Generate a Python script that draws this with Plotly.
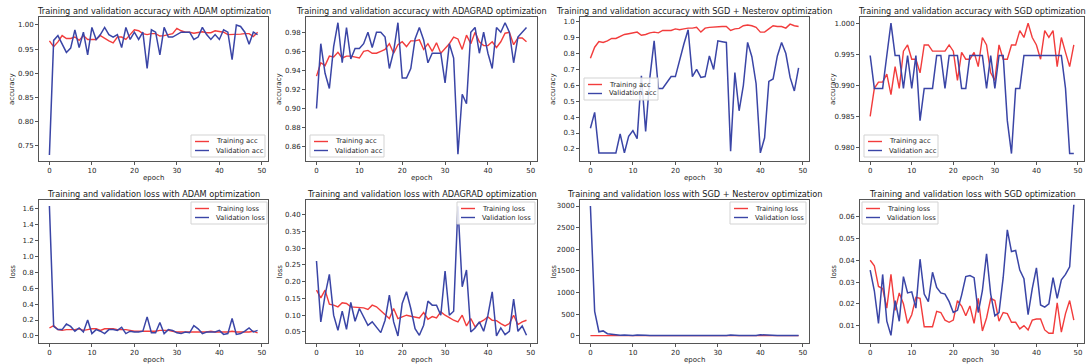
import plotly.graph_objects as go

W, H = 1086, 364
epochs = list(range(50))

# ---------------- data ----------------
adam_train_acc = [0.967, 0.955, 0.965, 0.978, 0.972, 0.972, 0.975, 0.968, 0.978, 0.970,
                  0.970, 0.970, 0.978, 0.972, 0.967, 0.963, 0.975, 0.975, 0.970, 0.980,
                  0.990, 0.988, 0.982, 0.980, 0.982, 0.982, 0.977, 0.978, 0.980, 0.982,
                  0.993, 0.988, 0.985, 0.985, 0.983, 0.985, 0.986, 0.984, 0.984, 0.988,
                  0.987, 0.985, 0.980, 0.980, 0.981, 0.981, 0.982, 0.982, 0.976, 0.985]
adam_val_acc = [0.730, 0.968, 0.978, 0.962, 0.943, 0.952, 0.990, 0.953, 0.985, 0.938,
                0.995, 0.970, 0.980, 0.995, 0.980, 0.975, 0.980, 0.953, 0.995, 0.970,
                0.985, 0.970, 0.985, 0.910, 0.990, 0.985, 0.938, 0.995, 0.975, 0.975,
                0.980, 0.985, 0.985, 0.985, 0.970, 0.975, 0.995, 0.980, 0.970, 0.980,
                0.970, 0.990, 0.985, 0.928, 1.000, 0.997, 0.985, 0.960, 0.985, 0.980]

adagrad_train_acc = [0.934, 0.948, 0.945, 0.955, 0.954, 0.959, 0.953, 0.955, 0.955, 0.954,
                     0.953, 0.960, 0.961, 0.958, 0.958, 0.960, 0.962, 0.968, 0.958, 0.967,
                     0.970, 0.965, 0.971, 0.971, 0.972, 0.962, 0.968, 0.960, 0.969, 0.958,
                     0.963, 0.968, 0.975, 0.973, 0.962, 0.977, 0.968, 0.980, 0.970, 0.966,
                     0.966, 0.970, 0.964, 0.970, 0.979, 0.980, 0.967, 0.974, 0.974, 0.970]
adagrad_val_acc = [0.900, 0.968, 0.937, 0.921, 0.965, 0.990, 0.948, 0.985, 0.952, 0.963,
                   0.963, 0.968, 0.980, 0.964, 0.980, 0.980, 0.975, 0.942, 0.960, 0.990,
                   0.932, 0.932, 0.942, 0.973, 0.985, 0.972, 0.948, 0.958, 0.958, 0.958,
                   0.927, 0.968, 0.953, 0.852, 0.915, 0.905, 0.980, 0.985, 0.958, 0.980,
                   0.958, 0.942, 0.985, 0.980, 0.990, 0.980, 0.948, 0.975, 0.980, 0.985]

sgdn_train_acc = [0.770, 0.840, 0.875, 0.870, 0.880, 0.895, 0.895, 0.910, 0.920, 0.925,
                  0.930, 0.935, 0.915, 0.920, 0.930, 0.935, 0.930, 0.945, 0.945, 0.945,
                  0.955, 0.950, 0.955, 0.960, 0.960, 0.965, 0.935, 0.960, 0.965, 0.968,
                  0.970, 0.970, 0.970, 0.945, 0.955, 0.958, 0.975, 0.980, 0.975, 0.965,
                  0.935, 0.935, 0.955, 0.975, 0.970, 0.970, 0.960, 0.985, 0.975, 0.970]
sgdn_val_acc = [0.330, 0.430, 0.175, 0.175, 0.175, 0.175, 0.175, 0.295, 0.175, 0.280,
                0.315, 0.265, 0.660, 0.310, 0.650, 0.880, 0.580, 0.580, 0.620, 0.655,
                0.655, 0.760, 0.860, 0.950, 0.655, 0.700, 0.650, 0.655, 0.785, 0.700,
                0.880, 0.875, 0.870, 0.185, 0.680, 0.440, 0.600, 0.870, 0.780, 0.610,
                0.175, 0.270, 0.625, 0.640, 0.785, 0.870, 0.800, 0.650, 0.565, 0.710]

sgd_train_acc = [0.9850, 0.9895, 0.9905, 0.9905, 0.9918, 0.9885, 0.9930, 0.9895, 0.9955, 0.9965,
                 0.9942, 0.9942, 0.9920, 0.9965, 0.9965, 0.9955, 0.9955, 0.9955, 0.9955, 0.9965,
                 0.9955, 0.9908, 0.9953, 0.9942, 0.9942, 0.9953, 0.9930, 0.9977, 0.9965, 0.9920,
                 0.9908, 0.9965, 0.9942, 0.9942, 0.9965, 0.9965, 0.9988, 0.9977, 1.0000, 0.9977,
                 0.9965, 0.9942, 0.9988, 0.9977, 0.9988, 0.9930, 0.9977, 0.9953, 0.9930, 0.9965]
sgd_val_acc = [0.9948, 0.9895, 0.9895, 0.9895, 0.9948, 1.0000, 0.9948, 0.9948, 0.9895, 0.9948,
               0.9895, 0.9948, 0.9843, 0.9895, 0.9895, 0.9895, 0.9948, 0.9948, 0.9895, 0.9948,
               0.9948, 0.9948, 0.9895, 0.9895, 0.9948, 0.9948, 0.9948, 0.9948, 0.9895, 0.9948,
               0.9895, 0.9948, 0.9948, 0.9843, 0.9790, 0.9895, 0.9895, 0.9948, 0.9948, 0.9948,
               0.9948, 0.9948, 0.9948, 0.9948, 0.9948, 0.9948, 0.9948, 0.9895, 0.9790, 0.9790]

adam_train_loss = [0.10, 0.13, 0.08, 0.07, 0.08, 0.08, 0.08, 0.09, 0.07, 0.08,
                   0.09, 0.09, 0.07, 0.09, 0.09, 0.09, 0.08, 0.08, 0.08, 0.07,
                   0.06, 0.06, 0.06, 0.06, 0.06, 0.06, 0.07, 0.07, 0.07, 0.06,
                   0.05, 0.05, 0.05, 0.05, 0.05, 0.05, 0.05, 0.05, 0.06, 0.05,
                   0.05, 0.05, 0.05, 0.06, 0.05, 0.05, 0.05, 0.05, 0.06, 0.04]
adam_val_loss = [1.63, 0.12, 0.08, 0.08, 0.15, 0.12, 0.06, 0.10, 0.05, 0.20,
                 0.03, 0.08, 0.06, 0.03, 0.08, 0.08, 0.07, 0.11, 0.03, 0.06,
                 0.05, 0.05, 0.06, 0.24, 0.04, 0.04, 0.17, 0.03, 0.08, 0.07,
                 0.04, 0.03, 0.05, 0.04, 0.13, 0.09, 0.03, 0.05, 0.05, 0.05,
                 0.07, 0.02, 0.03, 0.22, 0.02, 0.03, 0.06, 0.10, 0.05, 0.07]

adagrad_train_loss = [0.175, 0.152, 0.175, 0.133, 0.130, 0.125, 0.137, 0.135, 0.125, 0.124,
                      0.122, 0.122, 0.117, 0.130, 0.125, 0.113, 0.100, 0.090, 0.120, 0.090,
                      0.095, 0.100, 0.097, 0.095, 0.092, 0.108, 0.088, 0.096, 0.092, 0.110,
                      0.100, 0.093, 0.085, 0.080, 0.100, 0.068, 0.090, 0.065, 0.078, 0.085,
                      0.095, 0.085, 0.084, 0.075, 0.068, 0.075, 0.100, 0.072, 0.080, 0.085]
adagrad_val_loss = [0.262, 0.080, 0.160, 0.222, 0.100, 0.055, 0.112, 0.058, 0.138, 0.082,
                    0.120, 0.095, 0.070, 0.080, 0.065, 0.048, 0.085, 0.160, 0.080, 0.038,
                    0.135, 0.170, 0.120, 0.060, 0.040, 0.070, 0.142, 0.130, 0.130, 0.100,
                    0.232, 0.100, 0.112, 0.425, 0.185, 0.235, 0.050, 0.062, 0.080, 0.052,
                    0.100, 0.170, 0.038, 0.062, 0.042, 0.052, 0.148, 0.052, 0.068, 0.040]

sgdn_train_loss = [0.62, 0.42, 0.33, 0.31, 0.29, 0.27, 0.26, 0.23, 0.21, 0.20,
                   0.19, 0.18, 0.21, 0.20, 0.19, 0.18, 0.18, 0.16, 0.16, 0.16,
                   0.14, 0.15, 0.14, 0.13, 0.13, 0.12, 0.17, 0.12, 0.11, 0.11,
                   0.10, 0.10, 0.10, 0.15, 0.13, 0.12, 0.09, 0.08, 0.09, 0.11,
                   0.17, 0.16, 0.12, 0.09, 0.10, 0.10, 0.11, 0.07, 0.09, 0.10]
sgdn_val_loss = [3000, 560, 90, 110, 45, 30, 20, 10, 15, 5,
                 5, 15, 5, 10, 5, 4, 6, 5, 4, 3,
                 3, 2, 2, 1, 3, 2, 3, 3, 2, 2,
                 1, 1, 1, 14, 3, 6, 3, 1, 2, 4,
                 22, 14, 3, 2, 1, 1, 1, 2, 2, 1]

sgd_train_loss = [0.0400, 0.0375, 0.0280, 0.0270, 0.0180, 0.0335, 0.0170, 0.0250, 0.0200, 0.0110,
                  0.0150, 0.0230, 0.0225, 0.0095, 0.0095, 0.0095, 0.0165, 0.0160, 0.0125, 0.0115,
                  0.0125, 0.0215, 0.0190, 0.0145, 0.0190, 0.0110, 0.0225, 0.0075, 0.0135, 0.0225,
                  0.0215, 0.0120, 0.0160, 0.0155, 0.0115, 0.0115, 0.0085, 0.0100, 0.0080, 0.0125,
                  0.0130, 0.0130, 0.0080, 0.0065, 0.0065, 0.0205, 0.0070, 0.0155, 0.0215, 0.0125]
sgd_val_loss = [0.0355, 0.0260, 0.0110, 0.0335, 0.0120, 0.0055, 0.0215, 0.0120, 0.0325, 0.0250,
                0.0255, 0.0180, 0.0405, 0.0245, 0.0210, 0.0345, 0.0275, 0.0250, 0.0245, 0.0210,
                0.0160, 0.0170, 0.0240, 0.0325, 0.0330, 0.0320, 0.0160, 0.0260, 0.0430, 0.0245,
                0.0145, 0.0160, 0.0320, 0.0540, 0.0440, 0.0445, 0.0355, 0.0315, 0.0150, 0.0270,
                0.0365, 0.0195, 0.0185, 0.0200, 0.0320, 0.0225, 0.0310, 0.0335, 0.0370, 0.0655]

titles = [
    "Training and validation accuracy with ADAM optimization",
    "Training and validation accuracy with ADAGRAD optimization",
    "Training and validation accuracy with SGD + Nesterov optimization",
    "Training and validation accuracy with SGD optimization",
    "Training and validation loss with ADAM optimization",
    "Training and validation loss with ADAGRAD optimization",
    "Training and validation loss with SGD + Nesterov optimization",
    "Training and validation loss with SGD optimization",
]
train_series = [adam_train_acc, adagrad_train_acc, sgdn_train_acc, sgd_train_acc,
                adam_train_loss, adagrad_train_loss, sgdn_train_loss, sgd_train_loss]
val_series = [adam_val_acc, adagrad_val_acc, sgdn_val_acc, sgd_val_acc,
              adam_val_loss, adagrad_val_loss, sgdn_val_loss, sgd_val_loss]
ylabels = ["accuracy"] * 4 + ["loss"] * 4
train_names = ["Training acc"] * 4 + ["Training loss"] * 4
val_names = ["Validation acc"] * 4 + ["Validation loss"] * 4
x_ticks = [0, 10, 20, 30, 40, 50]

# ---------------- layout configuration ----------------
FONT = "DejaVu Sans"
RED = "#f23c3c"
BLUE = "#3a45a6"
SPINE = "#555555"
TXT = "#262626"

cols_px = [(39, 268), (306, 537), (580, 809), (860, 1084)]
rows_px = [(17, 161), (200, 343)]
y_ranges = [(0.7175, 1.0166), (0.845, 0.996), (0.124, 1.03), (0.9778, 1.001),
            (-0.088, 1.705), (0.017, 0.444), (-170, 3139), (0.002, 0.0677)]
y_dticks = [0.05, 0.02, 0.1, 0.005, 0.2, 0.05, 500, 0.01]
y_tick0 = [0.75, 0.86, 0.2, 0.98, 0.0, 0.05, 0, 0.01]
y_formats = [".2f", ".2f", ".1f", ".3f", ".1f", ".2f", "d", ".2f"]
# legend boxes (left, top, width) in px
legend_boxes = [(191, 135, 74), (310, 135, 74), (584, 78, 74), (864, 135, 74),
                (191, 202, 76), (457, 202, 78), (730, 202, 76), (862, 202, 76)]


def px(x):
    return x / W


def py(y):
    return 1 - y / H


fig = go.Figure()
annotations = []
shapes = []
layout = {}

for i in range(8):
    r, c = divmod(i, 4)
    xl, xr = cols_px[c]
    yt, yb = rows_px[r]
    suffix = "" if i == 0 else str(i + 1)
    xa, ya = "x" + suffix, "y" + suffix

    fig.add_trace(go.Scatter(x=epochs, y=train_series[i], mode="lines", name=train_names[i],
                             line=dict(color=RED, width=1.4), xaxis=xa, yaxis=ya,
                             showlegend=False))
    fig.add_trace(go.Scatter(x=epochs, y=val_series[i], mode="lines", name=val_names[i],
                             line=dict(color=BLUE, width=1.5), xaxis=xa, yaxis=ya,
                             showlegend=False))

    common = dict(showgrid=False, zeroline=False, showline=True, linecolor=SPINE, linewidth=1,
                  mirror=True, ticks="outside", ticklen=3, tickcolor=SPINE, tickwidth=1,
                  tickfont=dict(family=FONT, size=7, color=TXT))
    layout["xaxis" + suffix] = dict(common, domain=[px(xl), px(xr)], anchor=ya,
                                    range=[-2.45, 51.45], tickvals=x_ticks)
    layout["yaxis" + suffix] = dict(common, domain=[py(yb), py(yt)], anchor=xa,
                                    range=list(y_ranges[i]), tick0=y_tick0[i], dtick=y_dticks[i],
                                    tickformat=y_formats[i])

    # title
    annotations.append(dict(text=titles[i], x=px((xl + xr) / 2), y=py(yt - 6), xref="paper",
                            yref="paper", xanchor="center", yanchor="middle", showarrow=False,
                            font=dict(family=FONT, size=8.2, color="#1a1a1a")))
    # axis labels
    annotations.append(dict(text="epoch", x=px((xl + xr) / 2), y=py(yb + 16.5), xref="paper",
                            yref="paper", xanchor="center", yanchor="middle", showarrow=False,
                            font=dict(family=FONT, size=7, color=TXT)))
    annotations.append(dict(text=ylabels[i], x=px(xl - 27), y=py((yt + yb) / 2), xref="paper",
                            yref="paper", xanchor="center", yanchor="middle", showarrow=False,
                            textangle=-90, font=dict(family=FONT, size=7, color=TXT)))

    # legend (matplotlib-style box)
    lx, ly, lw = legend_boxes[i]
    shapes.append(dict(type="rect", xref="paper", yref="paper", x0=px(lx), x1=px(lx + lw),
                       y0=py(ly + 22), y1=py(ly), line=dict(color="#d3d3d3", width=1),
                       fillcolor="rgba(255,255,255,0.85)", layer="above"))
    for k, (name, col) in enumerate([(train_names[i], RED), (val_names[i], BLUE)]):
        yy = ly + 6.5 + 9 * k
        shapes.append(dict(type="line", xref="paper", yref="paper", x0=px(lx + 4),
                           x1=px(lx + 18), y0=py(yy), y1=py(yy),
                           line=dict(color=col, width=1.4), layer="above"))
        annotations.append(dict(text=name, x=px(lx + 23), y=py(yy), xref="paper", yref="paper",
                                xanchor="left", yanchor="middle", showarrow=False,
                                font=dict(family=FONT, size=6.8, color=TXT)))

fig.update_layout(**layout)
fig.update_layout(width=W, height=H, margin=dict(l=0, r=0, t=0, b=0),
                  paper_bgcolor="white", plot_bgcolor="white", showlegend=False,
                  annotations=annotations, shapes=shapes)

fig.write_html("out.html", config={"displayModeBar": False},
               post_script="document.body.style.margin='0';document.body.style.overflow='hidden';")
